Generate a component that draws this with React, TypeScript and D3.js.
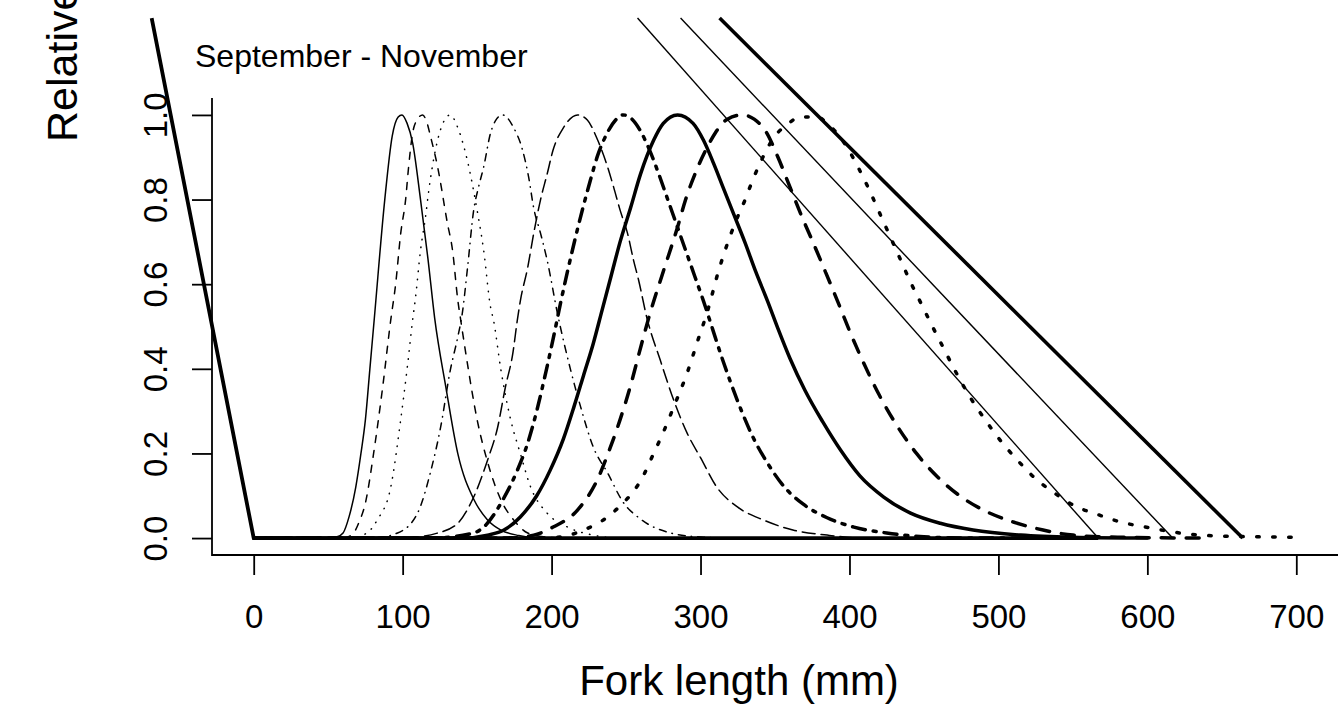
import React, { useEffect, useRef } from 'react'
import * as d3 from 'd3'

// fork length (mm) vs relative selectivity
const curve100: [number, number][] = [
  [0, 0], [50, 0], [56, 0.003], [60, 0.012], [64, 0.05], [68.5, 0.12], [72, 0.2], [75, 0.28], [78, 0.4],
  [81, 0.52], [88, 0.8], [93, 0.95], [97, 0.995], [99.5, 1.0], [103, 0.98], [106.7, 0.934], [112, 0.8],
  [117, 0.66], [121.5, 0.52], [129, 0.357], [137, 0.2], [148, 0.09], [157, 0.043], [166, 0.019],
  [178, 0.006], [190, 0], [300, 0],
]
const curve113: [number, number][] = [
  [0, 0], [60, 0], [67, 0.012], [71, 0.04], [75, 0.083], [80.5, 0.2], [86.6, 0.357], [92, 0.515],
  [95.3, 0.6], [98.7, 0.72], [102, 0.8], [104, 0.877], [106.7, 0.957], [110, 0.99], [113.4, 1.0],
  [116, 0.985], [118.8, 0.948], [123.5, 0.877], [130, 0.745], [133.5, 0.68], [137, 0.563], [139, 0.515],
  [143.6, 0.41], [150, 0.28], [157, 0.18], [166, 0.09], [174.5, 0.043], [184, 0.012], [195, 0.003],
  [210, 0], [350, 0],
]
const curve132: [number, number][] = [
  [0, 0], [65, 0], [76, 0.012], [83, 0.043], [92, 0.12], [98.7, 0.28], [103, 0.4], [106.7, 0.515],
  [108.7, 0.57], [112, 0.68], [115.4, 0.76], [117.5, 0.82], [122, 0.917], [127, 0.98], [132, 1.0],
  [137, 0.97], [143.6, 0.89], [150, 0.775], [154.4, 0.68], [159, 0.546], [161, 0.515], [166, 0.397],
  [172.5, 0.28], [179, 0.2], [186, 0.12], [197, 0.059], [210.7, 0.026], [228, 0.007], [245, 0], [400, 0],
]
const curve167: [number, number][] = [
  [0, 0], [80, 0], [96.6, 0.012], [110, 0.059], [119, 0.16], [125.5, 0.262], [132, 0.397], [137, 0.475],
  [140, 0.53], [143.6, 0.64], [147.7, 0.775], [151, 0.83], [154.4, 0.877], [159, 0.957], [163, 0.99],
  [167, 1.0], [174.5, 0.97], [180.5, 0.917], [184.6, 0.853], [188, 0.78], [192.6, 0.72], [197, 0.657],
  [204, 0.53], [212.8, 0.397], [219.5, 0.31], [228, 0.215], [237.6, 0.154], [248, 0.085], [259.7, 0.045],
  [280, 0.012], [302, 0.002], [320, 0], [450, 0],
]
const curve217: [number, number][] = [
  [0, 0], [100, 0], [123.5, 0.012], [137, 0.035], [147.7, 0.097], [157, 0.184], [163.8, 0.262],
  [169, 0.357], [174, 0.437], [177, 0.515], [179, 0.56], [184, 0.64], [188, 0.72], [192.6, 0.8],
  [197, 0.86], [201, 0.917], [208, 0.97], [217.4, 1.0], [224, 0.988], [231, 0.94], [237.6, 0.877],
  [241.6, 0.83], [246, 0.775], [251, 0.72], [255, 0.657], [258.4, 0.61], [264, 0.52], [273, 0.42],
  [282, 0.326], [291, 0.248], [300, 0.19], [311, 0.12], [325, 0.073], [342, 0.043], [362, 0.019],
  [385, 0.007], [410, 0], [520, 0],
]
const curve248: [number, number][] = [
  [0, 0], [120, 0], [147.7, 0.012], [154.4, 0.026], [168, 0.095], [177, 0.16], [184, 0.225], [190, 0.3],
  [196, 0.39], [201, 0.47], [206, 0.555], [211, 0.635], [216, 0.71], [221, 0.78], [226, 0.845],
  [231, 0.905], [237, 0.955], [243, 0.988], [248, 1.0], [254, 0.99], [260, 0.96], [266, 0.915],
  [272, 0.86], [278, 0.8], [284, 0.74], [290, 0.68], [296, 0.62], [302, 0.56], [308, 0.495], [314, 0.43],
  [320, 0.37], [327, 0.305], [335, 0.24], [345, 0.177], [356, 0.122], [369, 0.08], [385, 0.048],
  [403, 0.026], [425, 0.012], [450, 0.003], [480, 0], [560, 0],
]
const curve285: [number, number][] = [
  [0, 0], [140, 0], [157, 0.007], [168, 0.019], [179, 0.05], [190, 0.1], [199, 0.16], [208, 0.235],
  [215, 0.31], [221.5, 0.385], [228, 0.46], [234, 0.54], [240, 0.62], [246, 0.7], [253, 0.78],
  [259.7, 0.86], [268.5, 0.94], [275, 0.98], [284.6, 1.0], [295, 0.98], [302, 0.94], [308.7, 0.886],
  [315, 0.83], [322, 0.768], [330, 0.697], [337, 0.63], [345, 0.56], [352, 0.495], [360, 0.425],
  [370, 0.35], [382, 0.275], [394, 0.208], [407, 0.147], [423, 0.097], [441, 0.059], [461, 0.035],
  [483, 0.019], [515, 0.007], [550, 0.002], [600, 0],
]
const curve328: [number, number][] = [
  [0, 0], [170, 0], [188, 0.007], [201, 0.026], [217.4, 0.066], [231, 0.14], [239, 0.21], [246, 0.28],
  [253, 0.36], [259, 0.44], [266, 0.53], [275, 0.63], [284.6, 0.735], [290, 0.8], [298, 0.875],
  [304.7, 0.925], [310, 0.958], [318, 0.99], [328, 1.0], [336, 0.99], [344, 0.96], [352, 0.9],
  [360, 0.83], [368, 0.76], [376, 0.695], [384, 0.628], [392, 0.56], [400, 0.49], [410, 0.41],
  [420, 0.338], [432, 0.265], [445, 0.2], [459, 0.145], [474, 0.1], [490, 0.066], [510, 0.038],
  [530, 0.019], [550, 0.007], [580, 0.002], [640, 0],
]
const curve372: [number, number][] = [
  [0, 0], [180, 0], [204, 0.002], [221.5, 0.019], [237.6, 0.05], [248, 0.083], [255, 0.11],
  [261.7, 0.148], [268.5, 0.2], [275, 0.25], [282, 0.31], [291, 0.39], [298, 0.465], [305, 0.54],
  [312, 0.63], [320, 0.715], [325, 0.76], [330, 0.8], [335, 0.846], [340, 0.886], [345, 0.922],
  [350, 0.95], [358.4, 0.978], [367, 0.995], [378.5, 0.995], [385, 0.98], [392, 0.955], [399, 0.92],
  [406, 0.875], [413, 0.825], [420, 0.77], [427, 0.715], [434, 0.66], [441, 0.605], [448, 0.555],
  [455, 0.505], [463, 0.45], [471, 0.395], [481, 0.333], [492.6, 0.272], [501, 0.232], [512.8, 0.184],
  [526, 0.137], [535, 0.113], [553, 0.073], [564, 0.059], [582, 0.038], [602, 0.024], [622, 0.012],
  [647, 0.005], [700, 0.002],
]

// the straight lines that run off the top of the panel
const steepLine: [number, number][] = [[-68.5, 1.229], [0, 0], [567, 0]]
const thinLine1: [number, number][] = [[257.7, 1.229], [567, 0]]
const thinLine2: [number, number][] = [[286.6, 1.229], [617, 0]]
const thickLine: [number, number][] = [[312.8, 1.229], [664, 0]]

const xTicks = [0, 100, 200, 300, 400, 500, 600, 700]
const yTicks = [0, 0.2, 0.4, 0.6, 0.8, 1.0]

const FONT = '"Liberation Sans", Arial, Helvetica, sans-serif'

const App = () => {
  const ref = useRef<SVGSVGElement>(null)

  useEffect(() => {
    draw()
  })

  const draw = () => {
    const left = 212
    const right = 1338
    const top = 98
    const bottom = 555

    const svg = d3.select(ref.current)
    svg.selectAll('*').remove()

    // R-style 4% padding on both axes
    const x = d3.scaleLinear().domain([-28, 728]).range([left, right])
    const y = d3.scaleLinear().domain([-0.04, 1.04]).range([bottom, top])

    const line = d3
      .line<[number, number]>()
      .x((d) => x(d[0]))
      .y((d) => y(d[1]))
      .curve(d3.curveMonotoneX)
    const straight = d3
      .line<[number, number]>()
      .x((d) => x(d[0]))
      .y((d) => y(d[1]))

    const curves = [
      { data: curve100, w: 1.5, dash: null },
      { data: curve113, w: 1.5, dash: '7,8' },
      { data: curve132, w: 1.5, dash: '0.5,7.5' },
      { data: curve167, w: 1.5, dash: '0.5,6,7,6' },
      { data: curve217, w: 1.5, dash: '13,6' },
      { data: curve248, w: 3.5, dash: '3,8,13,8' },
      { data: curve285, w: 3.5, dash: null },
      { data: curve328, w: 3.5, dash: '13,12' },
      { data: curve372, w: 3.5, dash: '2.5,13.5' },
    ]

    const lines = [
      { data: steepLine, w: 3.8 },
      { data: thinLine1, w: 1.4 },
      { data: thinLine2, w: 1.4 },
      { data: thickLine, w: 3.6 },
    ]

    svg
      .selectAll('.curve')
      .data(curves)
      .enter()
      .append('path')
      .attr('class', 'curve')
      .attr('d', (d) => line(d.data))
      .attr('fill', 'none')
      .attr('stroke', '#000')
      .attr('stroke-width', (d) => d.w)
      .attr('stroke-linecap', 'round')
      .attr('stroke-linejoin', 'round')
      .attr('stroke-dasharray', (d) => d.dash)

    svg
      .selectAll('.straight')
      .data(lines)
      .enter()
      .append('path')
      .attr('class', 'straight')
      .attr('d', (d) => straight(d.data))
      .attr('fill', 'none')
      .attr('stroke', '#000')
      .attr('stroke-width', (d) => d.w)
      .attr('stroke-linejoin', 'round')

    // x axis
    const gx = svg
      .append('g')
      .attr('transform', `translate(0,${bottom})`)
      .call(d3.axisBottom(x).tickValues(xTicks).tickFormat(d3.format('d')).tickSize(20).tickPadding(30))
    gx.select('.domain').remove()
    gx.selectAll('line').attr('stroke', '#000').attr('stroke-width', 1.8)
    gx.selectAll('text').attr('font-family', FONT).attr('font-size', 33).attr('fill', '#000')

    // y axis, labels parallel to the axis
    const gy = svg
      .append('g')
      .attr('transform', `translate(${left},0)`)
      .call(d3.axisLeft(y).tickValues(yTicks).tickFormat(d3.format('.1f')).tickSize(20))
    gy.select('.domain').remove()
    gy.selectAll('line').attr('stroke', '#000').attr('stroke-width', 1.8)
    gy.selectAll('text')
      .attr('x', null)
      .attr('dy', null)
      .attr('text-anchor', 'middle')
      .attr('transform', 'translate(-45,0) rotate(-90)')
      .attr('font-family', FONT)
      .attr('font-size', 33)
      .attr('fill', '#000')

    // L-shaped box
    svg
      .append('path')
      .attr('d', `M${left},${top}V${bottom}H${right}`)
      .attr('fill', 'none')
      .attr('stroke', '#000')
      .attr('stroke-width', 1.8)

    svg
      .append('text')
      .attr('x', 195)
      .attr('y', 67)
      .attr('font-family', FONT)
      .attr('font-size', 32)
      .text('September - November')

    svg
      .append('text')
      .attr('x', 739)
      .attr('y', 695)
      .attr('text-anchor', 'middle')
      .attr('font-family', FONT)
      .attr('font-size', 42)
      .text('Fork length (mm)')

    // axis title runs off the top, as in the source panel
    svg
      .append('text')
      .attr('transform', 'translate(77,142) rotate(-90)')
      .attr('font-family', FONT)
      .attr('font-size', 43)
      .text('Relative selectivity')
  }

  return (
    <svg
      ref={ref}
      width={1340}
      height={710}
      style={{ position: 'absolute', left: 0, top: 0, background: '#fff' }}
    />
  )
}

export default App
